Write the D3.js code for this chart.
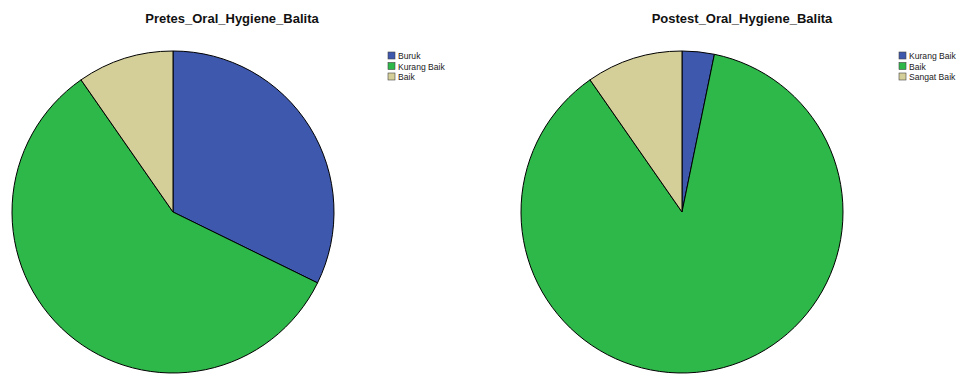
<!DOCTYPE html>
<html>
<head>
<meta charset="utf-8">
<script src="https://cdn.jsdelivr.net/npm/d3@7"></script>
<style>
  body { margin: 0; background: #fff; }
  text { font-family: Arial, "Liberation Sans", sans-serif; }
</style>
</head>
<body>
<svg width="957" height="374"></svg>
<script>
// pretest counts
var preLabels = ["Buruk", "Kurang Baik", "Baik"];
var preValues = [10, 18, 3];
// posttest counts
var postLabels = ["Kurang Baik", "Baik", "Sangat Baik"];
var postValues = [1, 27, 3];

var colors = ["#3e58ad", "#2eb84a", "#d4cf98"];

var svg = d3.select("svg");

function drawPie(title, labels, values, cx, cy, r, titleX, legX) {
  var g = svg.append("g");

  g.append("text")
    .attr("x", titleX)
    .attr("y", 23)
    .attr("text-anchor", "middle")
    .style("font-size", "13px")
    .style("font-weight", "bold")
    .attr("fill", "#111")
    .text(title);

  var pie = d3.pie().sort(null);
  var arc = d3.arc().innerRadius(0).outerRadius(r);

  var data = labels.map(function (d, i) { return { label: d, value: values[i], color: colors[i] }; });

  g.append("g")
    .attr("transform", "translate(" + cx + "," + cy + ")")
    .selectAll("path")
    .data(pie.value(function (d) { return d.value; })(data))
    .enter()
    .append("path")
    .attr("d", arc)
    .attr("fill", function (d) { return d.data.color; })
    .attr("stroke", "#000")
    .attr("stroke-width", 1);

  var leg = g.append("g")
    .attr("transform", "translate(" + legX + ",52)");
  var row = leg.selectAll("g")
    .data(data)
    .enter()
    .append("g")
    .attr("transform", function (d, i) { return "translate(0," + (i * 10.5) + ")"; });
  row.append("rect")
    .attr("width", 7)
    .attr("height", 7)
    .attr("fill", function (d) { return d.color; })
    .attr("stroke", "#444")
    .attr("stroke-width", 0.6);
  row.append("text")
    .attr("x", 10)
    .attr("y", 7)
    .style("font-size", "8.6px")
    .attr("fill", "#222")
    .text(function (d) { return d.label; });
}

drawPie("Pretes_Oral_Hygiene_Balita", preLabels, preValues, 173, 212, 161, 232, 388);
drawPie("Postest_Oral_Hygiene_Balita", postLabels, postValues, 682, 212, 161, 742, 899);
</script>
</body>
</html>
